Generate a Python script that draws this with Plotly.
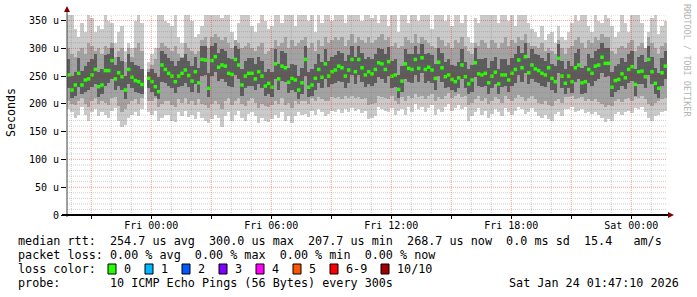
import plotly.graph_objects as go
import pandas as pd

FONT = "DejaVu Sans Mono"

# ---------------- data ----------------
X_START = "2026-01-22 19:47:10"
X_END = "2026-01-24 01:47:10"
times = pd.date_range("2026-01-22 19:52:10", periods=180, freq="10min")

median = [
    252, 225, 234, 255, 234, 243, 245, 252, 262, 231, 234, 260, 260, 278, 245, 256, 249, 225, 262, 248,
    242, 240, 235, None, 246, 240, 231, 222, 270, 262, 255, 250, 240, 250, 255, 261, 251, 241, 258, 238,
    280, 279, 228, 278, 285, 266, 270, 268, 255, 253, 280, 270, 234, 250, 255, 255, 245, 258, 250, 232,
    237, 230, 272, 245, 268, 265, 239, 246, 243, 225, 238, 280, 230, 234, 246, 262, 248, 272, 250, 258,
    261, 268, 265, 250, 261, 280, 258, 280, 265, 252, 258, 254, 262, 274, 272, 262, 276, 250, 252, 226,
    241, 272, 264, 262, 280, 264, 283, 262, 266, 261, 246, 275, 265, 249, 252, 244, 240, 247, 270, 249,
    236, 243, 274, 254, 252, 255, 238, 250, 257, 236, 252, 252, 243, 255, 262, 279, 265, 285, 256, 270,
    263, 260, 255, 252, 265, 246, 240, 282, 250, 237, 250, 240, 265, 270, 238, 240, 262, 255, 268, 270,
    284, 273, 273, 230, 242, 244, 254, 247, 262, 267, 235, 258, 259, 249, 280, 258, 237, 228, 256, 268,
]

ping_max = [
    360, 360, 335, 320, 345, 330, 360, 355, 330, 340, 335, 360, 350, 345, 310, 330, 340, 295, 310, 300,
    350, 360, 345, None, 275, 290, 300, 360, 360, 350, 345, 340, 360, 320, 310, 360, 360, 350, 320, 325,
    340, 360, 360, 360, 360, 360, 355, 360, 360, 330, 315, 345, 360, 360, 360, 340, 330, 345, 360, 350,
    335, 340, 360, 360, 345, 360, 360, 360, 340, 360, 360, 360, 350, 360, 330, 360, 345, 360, 360, 350,
    360, 360, 360, 345, 360, 360, 360, 360, 350, 360, 360, 355, 360, 345, 360, 360, 340, 360, 360, 330,
    360, 360, 345, 360, 360, 350, 360, 360, 360, 335, 360, 360, 360, 350, 360, 340, 360, 360, 345, 360,
    320, 310, 355, 345, 360, 360, 360, 360, 360, 345, 360, 360, 350, 360, 340, 360, 360, 360, 345, 335,
    330, 320, 340, 315, 325, 330, 310, 340, 320, 315, 330, 345, 360, 350, 360, 360, 340, 330, 360, 350,
    345, 360, 355, 340, 320, 330, 360, 345, 330, 360, 360, 360, 345, 300, 330, 355, 360, 325, 340, 350,
]

ping_hi = [
    300, 290, 285, 295, 300, 290, 310, 305, 295, 300, 290, 305, 300, 310, 285, 295, 300, 275, 300, 285,
    300, 310, 295, None, 262, 270, 280, 300, 310, 305, 300, 295, 305, 290, 285, 310, 300, 295, 290, 295,
    315, 320, 300, 320, 325, 320, 315, 320, 310, 300, 315, 310, 300, 305, 310, 300, 295, 305, 310, 290,
    295, 300, 315, 305, 310, 320, 300, 315, 305, 310, 315, 320, 300, 310, 295, 315, 305, 320, 310, 315,
    320, 315, 320, 305, 315, 325, 310, 320, 315, 310, 320, 310, 315, 320, 325, 315, 320, 305, 310, 300,
    305, 320, 315, 310, 325, 310, 320, 315, 310, 305, 300, 320, 315, 305, 310, 300, 315, 310, 320, 305,
    295, 290, 310, 305, 315, 310, 300, 315, 310, 300, 310, 320, 305, 315, 310, 320, 315, 325, 310, 305,
    305, 300, 310, 295, 300, 295, 290, 315, 300, 290, 300, 305, 315, 320, 310, 300, 315, 310, 320, 315,
    325, 320, 320, 295, 290, 300, 305, 300, 310, 315, 295, 305, 310, 300, 320, 310, 300, 290, 305, 310,
]

ping_dhi = [
    280, 250, 258, 282, 260, 268, 275, 280, 290, 258, 262, 288, 290, 300, 270, 285, 278, 250, 290, 275,
    270, 268, 262, None, 258, 262, 255, 248, 295, 290, 282, 278, 268, 278, 282, 290, 278, 268, 285, 265,
    305, 305, 255, 305, 310, 292, 298, 295, 282, 280, 305, 298, 262, 278, 282, 282, 272, 285, 278, 258,
    262, 258, 298, 272, 295, 292, 265, 272, 270, 250, 265, 305, 258, 262, 272, 290, 275, 298, 278, 285,
    288, 295, 292, 278, 288, 305, 285, 305, 292, 280, 285, 280, 290, 300, 298, 290, 302, 278, 280, 252,
    268, 298, 290, 290, 305, 290, 308, 290, 292, 288, 272, 300, 292, 275, 280, 270, 268, 275, 298, 275,
    262, 270, 300, 280, 280, 282, 265, 278, 285, 262, 280, 280, 270, 282, 290, 305, 292, 310, 282, 298,
    290, 288, 282, 278, 292, 272, 268, 308, 278, 262, 278, 268, 292, 298, 265, 268, 290, 282, 295, 298,
    310, 300, 300, 258, 268, 272, 282, 275, 290, 295, 262, 285, 288, 275, 305, 285, 265, 255, 282, 295,
]

ping_dlo = [
    228, 210, 215, 230, 218, 222, 225, 230, 235, 212, 218, 232, 238, 245, 225, 232, 225, 208, 235, 228,
    222, 220, 218, None, 228, 222, 215, 208, 240, 238, 232, 228, 220, 230, 232, 238, 230, 222, 235, 220,
    250, 252, 212, 250, 258, 242, 245, 240, 232, 230, 252, 245, 215, 228, 232, 232, 225, 235, 228, 215,
    218, 212, 245, 225, 242, 240, 220, 225, 222, 208, 218, 250, 212, 215, 225, 238, 228, 245, 230, 235,
    238, 242, 240, 228, 238, 252, 235, 252, 240, 230, 235, 232, 238, 248, 245, 238, 250, 228, 230, 210,
    222, 245, 240, 238, 252, 240, 255, 238, 242, 238, 225, 250, 240, 228, 230, 225, 222, 228, 245, 228,
    218, 222, 248, 232, 230, 232, 218, 228, 235, 218, 230, 232, 222, 232, 238, 252, 240, 255, 235, 245,
    240, 238, 232, 230, 240, 225, 220, 255, 228, 218, 228, 220, 240, 245, 218, 220, 238, 232, 242, 245,
    255, 248, 250, 212, 222, 225, 232, 226, 238, 242, 215, 235, 236, 228, 252, 235, 218, 210, 232, 245,
]

ping_lo = [
    205, 200, 198, 205, 210, 200, 195, 205, 210, 200, 205, 202, 198, 210, 212, 196, 185, 190, 200, 205,
    208, 200, 210, None, 205, 205, 210, 195, 200, 205, 205, 198, 195, 208, 202, 210, 200, 205, 198, 208,
    200, 198, 192, 200, 205, 200, 190, 205, 210, 198, 205, 210, 200, 196, 206, 210, 202, 192, 200, 196,
    195, 198, 205, 200, 210, 198, 202, 192, 205, 200, 205, 206, 200, 210, 205, 212, 208, 205, 206, 212,
    210, 212, 208, 214, 210, 215, 210, 212, 208, 210, 198, 200, 202, 215, 212, 210, 208, 214, 205, 200,
    212, 205, 215, 210, 218, 212, 215, 208, 214, 218, 205, 212, 208, 215, 220, 210, 214, 218, 212, 215,
    198, 202, 208, 214, 205, 210, 200, 206, 212, 208, 202, 214, 208, 205, 210, 216, 212, 206, 210, 214,
    208, 202, 200, 205, 198, 196, 206, 208, 202, 212, 212, 215, 208, 210, 212, 206, 208, 205, 208, 204,
    200, 195, 198, 196, 205, 208, 204, 208, 210, 206, 212, 210, 215, 208, 200, 196, 202, 205, 208, 210,
]

ping_min = [
    190, 185, 175, 180, 195, 180, 170, 185, 190, 178, 185, 180, 175, 188, 192, 170, 158, 162, 175, 180,
    185, 178, 190, None, 185, 180, 188, 170, 175, 180, 180, 170, 168, 185, 178, 188, 176, 180, 172, 186,
    175, 170, 165, 172, 180, 175, 158, 178, 185, 170, 180, 188, 175, 170, 182, 186, 178, 165, 175, 170,
    168, 172, 180, 175, 185, 170, 178, 165, 178, 185, 180, 182, 176, 188, 180, 190, 185, 178, 182, 188,
    186, 190, 184, 190, 185, 192, 188, 190, 184, 188, 172, 175, 178, 195, 190, 188, 185, 192, 180, 188,
    190, 180, 195, 185, 200, 190, 195, 185, 192, 198, 180, 190, 185, 195, 200, 188, 192, 198, 190, 195,
    170, 178, 185, 192, 180, 188, 175, 182, 190, 185, 178, 192, 186, 180, 188, 195, 190, 182, 186, 192,
    185, 178, 175, 180, 172, 170, 182, 185, 178, 190, 190, 195, 185, 188, 190, 184, 186, 182, 185, 180,
    175, 168, 172, 170, 182, 186, 180, 185, 188, 184, 192, 190, 195, 186, 175, 170, 178, 180, 185, 188,
]

Y_TICKS = [0, 50, 100, 150, 200, 250, 300, 350]
Y_TICK_TEXT = ["0", "50 u", "100 u", "150 u", "200 u", "250 u", "300 u", "350 u"]
X_TICK_LABELS = {"2026-01-23 00:00": "Fri 00:00", "2026-01-23 06:00": "Fri 06:00",
                 "2026-01-23 12:00": "Fri 12:00", "2026-01-23 18:00": "Fri 18:00",
                 "2026-01-24 00:00": "Sat 00:00"}

LEGEND_L1 = "median rtt:  254.7 us avg  300.0 us max  207.7 us min  268.7 us now  0.0 ms sd  15.4   am/s"
LEGEND_L2 = "packet loss: 0.00 % avg  0.00 % max  0.00 % min  0.00 % now"
LEGEND_L3 = "loss color:"
LEGEND_L4 = "probe:       10 ICMP Echo Pings (56 Bytes) every 300s"
STAMP = "Sat Jan 24 01:47:10 2026"
LOSS_LABELS = ["0", "1", "2", "3", "4", "5", "6-9", "10/10"]
LOSS_COLORS = ["#26ff00", "#00b8ff", "#0059ff", "#7e00ff", "#ff00ff", "#ff5500", "#ff0000", "#a10000"]
LOSS_BOX_X = [108, 145, 182, 219, 256, 293, 330, 381]

# ---------------- geometry helpers ----------------
PL, PR, PT, PB = 67, 667, 15, 215
W, H = 697, 297


def px(xp):
    return (xp - PL) / (PR - PL)


def py(yp):
    return (PB - yp) / (PB - PT)


def nb(s):
    return s.replace(" ", "\u00a0")


def span(lo, hi):
    base, h = [], []
    for a, b in zip(lo, hi):
        if a is None or b is None:
            base.append(None)
            h.append(None)
        else:
            base.append(a)
            h.append(b - a)
    return base, h


BAR_W = 10 * 60 * 1000 * 1.02

fig = go.Figure()
for lo, hi, col in [(ping_min, ping_max, "#cacaca"),
                    (ping_lo, ping_hi, "#a2a2a2"),
                    (ping_dlo, ping_dhi, "#5c5c5c")]:
    b, h = span(lo, hi)
    fig.add_trace(go.Bar(x=times, y=h, base=b, width=BAR_W,
                         marker=dict(color=col, line=dict(width=0)),
                         hoverinfo="skip", showlegend=False))

fig.add_trace(go.Scatter(x=times, y=median, mode="markers",
                         marker=dict(symbol="square", size=3.5, color=LOSS_COLORS[0],
                                     line=dict(width=0)),
                         showlegend=False, hoverinfo="skip"))

# ---------------- grid (drawn above data like rrdtool) ----------------
shapes = []
hours = pd.date_range("2026-01-22 20:00", "2026-01-24 01:00", freq="1h")
for t in hours:
    major = (t.hour % 3 == 0)
    shapes.append(dict(type="line", xref="x", yref="paper", x0=t, x1=t, y0=0, y1=1,
                       layer="above",
                       line=dict(color="rgba(255,0,0,0.38)" if major else "rgba(120,120,120,0.35)",
                                 width=1, dash="1px,1px")))
for v in range(10, 361, 10):
    major = (v % 50 == 0)
    shapes.append(dict(type="line", xref="paper", yref="y", x0=0, x1=1, y0=v, y1=v,
                       layer="above",
                       line=dict(color="rgba(255,0,0,0.38)" if major else "rgba(120,120,120,0.35)",
                                 width=1, dash="1px,1px")))

# axes lines & arrows
shapes.append(dict(type="line", xref="paper", yref="paper", x0=0, x1=0, y0=py(217), y1=py(9),
                   line=dict(color="#404040", width=1), layer="above"))
shapes.append(dict(type="line", xref="paper", yref="paper", x0=px(62), x1=px(670), y0=0, y1=0,
                   line=dict(color="#000000", width=2), layer="above"))
shapes.append(dict(type="path", xref="paper", yref="paper",
                   path=f"M {px(64)} {py(12)} L {px(70)} {py(12)} L {px(67)} {py(6)} Z",
                   fillcolor="#800000", line=dict(width=0), layer="above"))
shapes.append(dict(type="path", xref="paper", yref="paper",
                   path=f"M {px(668)} {py(212)} L {px(668)} {py(218)} L {px(674)} {py(215)} Z",
                   fillcolor="#800000", line=dict(width=0), layer="above"))

# loss colour swatches
for bx, col in zip(LOSS_BOX_X, LOSS_COLORS):
    shapes.append(dict(type="rect", xref="paper", yref="paper",
                       x0=px(bx), x1=px(bx + 8), y0=py(274), y1=py(264),
                       fillcolor=col, line=dict(color="#000000", width=1)))

# ---------------- texts ----------------
LF = dict(family=FONT, size=11.75, color="#000000")
anns = []


def ann(text, x, y, xanchor="left", font=LF, **kw):
    anns.append(dict(text=nb(text), x=px(x), y=py(y), xref="paper", yref="paper",
                     xanchor=xanchor, yanchor="middle", showarrow=False, font=font, **kw))


ann(LEGEND_L1, 16, 241)
ann(LEGEND_L2, 16, 255)
ann(LEGEND_L3, 16, 269)
ann(LEGEND_L4, 16, 283)
ann(STAMP, 681, 283, xanchor="right")
for bx, lab in zip(LOSS_BOX_X, LOSS_LABELS):
    ann(lab, bx + 14, 269)

anns.append(dict(text="Seconds", x=px(11), y=py(113), xref="paper", yref="paper",
                 xanchor="center", yanchor="middle", textangle=-90, showarrow=False,
                 font=dict(family=FONT, size=11.6, color="#000000")))
anns.append(dict(text=nb("RRDTOOL / TOBI OETIKER"), x=px(687), y=py(60), xref="paper", yref="paper",
                 xanchor="center", yanchor="middle", textangle=90, showarrow=False,
                 font=dict(family=FONT, size=8.5, color="#b4b4b4")))

x_tickvals = list(pd.date_range("2026-01-22 21:00", "2026-01-24 00:00", freq="3h"))
x_ticktext = [X_TICK_LABELS.get(t.strftime("%Y-%m-%d %H:%M"), "") for t in x_tickvals]

fig.update_layout(
    width=W, height=H, autosize=False,
    margin=dict(l=PL, r=W - PR, t=PT, b=H - PB, pad=0),
    paper_bgcolor="#ffffff", plot_bgcolor="#ffffff",
    barmode="overlay", bargap=0,
    showlegend=False,
    shapes=shapes, annotations=anns,
    font=dict(family=FONT, size=10, color="#000000"),
    xaxis=dict(type="date", range=[X_START, X_END], showgrid=False, zeroline=False,
               showline=False, tickmode="array", tickvals=x_tickvals, ticktext=x_ticktext,
               ticks="outside", ticklen=3, tickcolor="#000000", tickwidth=1,
               ticklabelstandoff=-2,
               tickfont=dict(family=FONT, size=10, color="#000000"), fixedrange=True),
    yaxis=dict(range=[0, 360], showgrid=False, zeroline=False, showline=False,
               tickmode="array", tickvals=Y_TICKS, ticktext=Y_TICK_TEXT,
               ticks="outside", ticklen=5, tickcolor="#000000", tickwidth=1,
               tickfont=dict(family=FONT, size=10, color="#000000"), fixedrange=True),
)

fig.write_html("out.html")
